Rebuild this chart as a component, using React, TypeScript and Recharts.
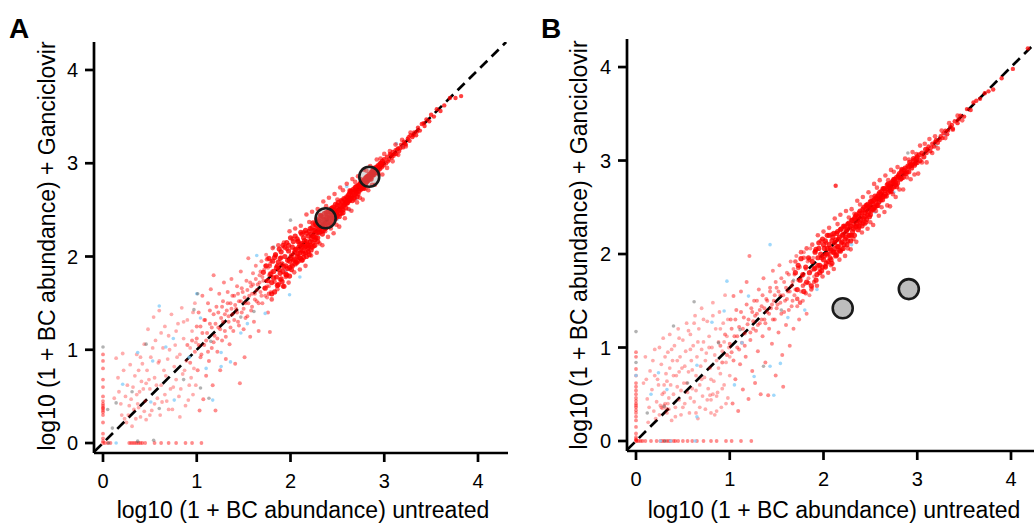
import { ScatterChart, Scatter, XAxis, YAxis } from 'recharts'

type Pt = [number, number]

const axisTicks = [0, 1, 2, 3, 4]
const xTitle = 'log10 (1 + BC abundance) untreated'
const yTitle = 'log10 (1 + BC abundance) + Ganciclovir'
// y = x reference
const identityLine: Pt[] = [[-0.09, -0.09], [4.3, 4.3]]

// ---- panel A ----
const aZeroCol: Pt[] = [
  [0, 0], [0, 0.02], [0, 0.05], [0, 0.1], [0, 0.22], [0, 0.3], [0, 0.33], [0, 0.35], [0, 0.37], [0, 0.38],
  [0, 0.4], [0, 0.42], [0, 0.45], [0, 0.5], [0, 0.6], [0, 0.68], [0, 0.8], [0, 0.88], [0, 0.95],
]
const aZeroRow: Pt[] = [
  [0.02, 0], [0.05, 0], [0.08, 0], [0.28, 0], [0.3, 0], [0.32, 0], [0.34, 0], [0.36, 0], [0.38, 0], [0.4, 0],
  [0.42, 0], [0.45, 0], [0.55, 0], [0.62, 0], [0.7, 0], [0.78, 0], [0.88, 0], [0.95, 0], [1.05, 0],
]
const aLow: Pt[] = [
  [0.14, 0.91], [0.17, 0.55], [0.2, 0.3], [0.22, 0.78], [0.25, 0.22], [0.26, 0.62], [0.28, 0.4], [0.3, 0.47],
  [0.31, 0.18], [0.33, 0.36], [0.34, 0.72], [0.36, 0.95], [0.37, 0.42], [0.38, 0.38], [0.39, 0.55], [0.4, 0.28],
  [0.41, 0.66], [0.42, 0.85], [0.44, 1.06], [0.45, 0.45], [0.46, 0.25], [0.47, 0.78], [0.48, 1.22], [0.5, 0.58],
  [0.51, 0.92], [0.52, 0.35], [0.54, 1.35], [0.55, 0.7], [0.56, 1.1], [0.58, 0.48], [0.59, 0.86], [0.6, 1.42],
  [0.61, 0.3], [0.62, 0.62], [0.64, 1.02], [0.65, 0.78], [0.66, 1.25], [0.68, 0.45], [0.69, 0.9], [0.7, 1.15],
  [0.72, 0.58], [0.73, 1.38], [0.74, 0.36], [0.76, 0.82], [0.77, 1.05], [0.78, 0.68], [0.8, 1.28], [0.81, 0.5],
  [0.82, 0.95], [0.84, 1.45], [0.85, 0.74], [0.86, 1.12], [0.88, 0.4], [0.89, 0.88], [0.9, 1.32], [0.92, 0.62],
  [0.93, 1.02], [0.95, 1.2], [0.96, 0.52], [0.97, 0.8], [0.98, 1.5], [0.99, 1.08],
  [0.12, 0.48], [0.16, 0.7], [0.19, 0.42], [0.21, 0.96], [0.24, 0.5], [0.27, 0.3], [0.29, 0.84], [0.32, 0.6],
  [0.35, 0.26], [0.36, 0.52], [0.4, 0.92], [0.43, 0.58], [0.44, 0.34], [0.49, 0.68], [0.5, 0.3], [0.53, 1.02],
  [0.57, 0.62], [0.6, 0.88], [0.62, 1.18], [0.63, 0.44], [0.67, 0.72], [0.7, 0.36], [0.71, 1.0], [0.75, 0.6],
  [0.78, 1.2], [0.79, 0.92], [0.83, 0.58], [0.86, 1.3], [0.87, 0.78], [0.91, 0.46], [0.94, 0.7], [0.96, 1.4],
  [0.99, 0.62], [0.82, 0.28], [0.66, 0.52], [0.55, 0.42], [0.46, 0.64], [0.38, 0.78], [0.23, 0.26],
]
const aMid: Pt[] = [
  [1.0, 1.12], [1.01, 0.78], [1.02, 1.4], [1.03, 0.35], [1.04, 1.25], [1.05, 0.95], [1.06, 1.58], [1.07, 0.47],
  [1.08, 1.05], [1.09, 1.32], [1.1, 0.72], [1.11, 1.18], [1.12, 1.5], [1.13, 0.88], [1.14, 1.28], [1.15, 1.65],
  [1.16, 1.02], [1.17, 0.62], [1.18, 1.38], [1.18, 1.8], [1.19, 1.15], [1.2, 0.35], [1.21, 1.46], [1.22, 0.98],
  [1.23, 1.24], [1.24, 1.6], [1.25, 0.78], [1.26, 1.34], [1.27, 1.1], [1.28, 1.52], [1.29, 1.72], [1.3, 1.2],
  [1.31, 0.9], [1.32, 1.42], [1.33, 1.62], [1.34, 1.3], [1.35, 1.06], [1.36, 1.5], [1.37, 1.76], [1.38, 1.38],
  [1.39, 1.2], [1.4, 1.58], [1.41, 0.85], [1.42, 1.44], [1.43, 1.68], [1.44, 1.3], [1.45, 1.52], [1.46, 0.64],
  [1.47, 1.84], [1.48, 1.4], [1.49, 1.62], [1.5, 1.22], [1.51, 0.92], [1.52, 1.5], [1.53, 1.74], [1.54, 1.36],
  [1.55, 1.98], [1.56, 1.58], [1.57, 1.14], [1.58, 1.68], [1.59, 1.46], [1.6, 1.82], [1.61, 1.3], [1.62, 1.6],
  [1.63, 1.9], [1.64, 1.52], [1.65, 1.7], [1.66, 1.2], [1.67, 1.8], [1.68, 1.62], [1.69, 1.95], [1.7, 1.5],
  [1.71, 1.74], [1.72, 1.86], [1.73, 1.58], [1.74, 2.02], [1.75, 1.68], [1.76, 1.4], [1.77, 1.8], [1.78, 1.19],
  [1.78, 1.92], [1.79, 1.62],
  [0.9, 1.05], [0.93, 0.86], [0.95, 1.1], [0.98, 0.98], [1.0, 1.25], [1.02, 1.05], [1.04, 0.92], [1.06, 1.18],
  [1.08, 1.32], [1.1, 1.1], [1.12, 0.98], [1.14, 1.42], [1.16, 1.24], [1.18, 1.08],
  [1.2, 1.28], [1.22, 1.12], [1.23, 1.4], [1.25, 1.22], [1.27, 1.46], [1.28, 1.3], [1.3, 1.38], [1.31, 1.14],
  [1.33, 1.5], [1.34, 1.36], [1.36, 1.24], [1.37, 1.44], [1.38, 1.58], [1.4, 1.32], [1.41, 1.48], [1.43, 1.4],
  [1.44, 1.6], [1.45, 1.26], [1.47, 1.52], [1.48, 1.66], [1.5, 1.44], [1.51, 1.56], [1.52, 1.34], [1.54, 1.64],
  [1.55, 1.5], [1.57, 1.72], [1.58, 1.42], [1.59, 1.6], [1.6, 1.7], [1.62, 1.54], [1.63, 1.76], [1.64, 1.64],
  [1.66, 1.5], [1.67, 1.72], [1.68, 1.84], [1.69, 1.58], [1.7, 1.78], [1.72, 1.66], [1.73, 1.9], [1.74, 1.74],
  [1.75, 1.56], [1.76, 1.88], [1.77, 1.68], [1.78, 1.82], [1.79, 1.95], [1.8, 1.84],
]
const aCore: Pt[] = [
  [1.8, 1.72], [1.81, 1.95], [1.82, 1.84], [1.83, 1.62], [1.84, 2.02], [1.85, 1.78], [1.86, 1.9], [1.87, 1.7],
  [1.88, 2.08], [1.88, 1.86], [1.89, 1.98], [1.9, 1.76], [1.91, 1.92], [1.92, 2.12], [1.92, 1.84], [1.93, 1.68],
  [1.94, 2.0], [1.95, 1.9], [1.96, 2.15], [1.96, 1.8], [1.97, 1.96], [1.98, 2.06], [1.99, 1.88], [2.0, 1.98],
  [2.0, 2.2], [2.01, 1.86], [2.02, 2.1], [2.03, 1.96], [2.04, 2.04], [2.05, 2.22], [2.05, 1.92], [2.06, 2.08],
  [2.07, 2.0], [2.08, 2.16], [2.08, 1.95], [2.09, 2.1], [2.1, 2.04], [2.11, 2.26], [2.11, 1.98], [2.12, 2.14],
  [2.13, 2.06], [2.14, 2.2], [2.14, 1.99], [2.15, 2.1], [2.16, 2.28], [2.16, 2.04], [2.17, 2.16], [2.18, 2.08],
  [2.19, 2.22], [2.19, 2.12], [2.2, 2.02], [2.21, 2.3], [2.21, 2.16], [2.22, 2.24], [2.23, 2.1], [2.24, 2.36],
  [2.24, 2.22], [2.25, 2.28], [2.26, 2.18], [2.27, 2.34], [2.27, 2.25], [2.28, 2.4], [2.29, 2.2], [2.3, 2.3],
  [2.31, 2.38], [2.31, 2.26], [2.32, 2.44], [2.33, 2.32], [2.34, 2.24], [2.35, 2.4], [2.35, 2.35], [2.36, 2.46],
  [2.37, 2.3], [2.38, 2.42], [2.39, 2.36], [2.4, 2.48], [2.41, 2.4], [2.42, 2.5], [2.42, 2.36], [2.43, 2.44],
  [2.44, 2.52], [2.45, 2.42], [2.46, 2.48], [2.47, 2.4], [2.48, 2.56], [2.48, 2.46], [2.49, 2.52], [2.5, 2.44],
  [2.51, 2.58], [2.52, 2.5], [2.53, 2.46], [2.54, 2.6], [2.55, 2.54], [2.56, 2.5], [2.57, 2.62], [2.58, 2.56],
  [2.59, 2.52], [2.6, 2.64], [2.61, 2.58], [2.62, 2.66], [2.63, 2.6], [2.64, 2.7], [2.65, 2.64], [2.66, 2.6],
  [2.67, 2.72], [2.68, 2.66], [2.69, 2.74], [2.7, 2.68], [2.71, 2.64], [2.72, 2.76], [2.73, 2.7], [2.74, 2.78],
  [2.75, 2.72], [2.76, 2.8], [2.77, 2.74], [2.78, 2.82], [2.79, 2.76], [2.8, 2.84], [2.81, 2.8], [2.82, 2.86],
  [2.83, 2.82], [2.84, 2.88], [2.85, 2.84], [2.86, 2.9], [2.87, 2.86], [2.88, 2.92], [2.89, 2.88], [2.9, 2.94],
  [2.91, 2.9], [2.92, 2.96], [2.93, 2.92], [2.94, 2.98], [2.95, 2.94], [2.96, 3.0], [2.97, 2.96], [2.98, 3.02],
  [2.99, 2.98], [3.0, 3.04],
  [1.71, 1.83], [1.73, 1.66], [1.74, 1.9], [1.76, 1.74], [1.77, 1.98], [1.79, 1.81], [1.8, 1.6], [1.82, 1.77],
  [1.83, 1.99], [1.85, 1.88], [1.86, 1.69], [1.87, 1.94], [1.89, 1.82], [1.9, 2.05], [1.91, 1.73], [1.93, 1.89],
  [1.94, 2.1], [1.95, 1.81], [1.97, 1.87], [1.98, 2.12], [1.99, 1.79], [1.99, 1.95],
  [2.01, 2.01], [2.02, 1.9], [2.03, 2.16], [2.04, 1.97], [2.05, 2.07], [2.06, 1.94], [2.07, 2.19], [2.08, 2.03],
  [2.09, 1.99], [2.1, 2.13], [2.11, 2.07], [2.12, 1.96], [2.12, 2.24], [2.13, 2.11], [2.14, 2.03], [2.15, 2.17],
  [2.16, 2.11], [2.17, 2.0], [2.17, 2.25], [2.18, 2.13], [2.19, 2.05], [2.2, 2.27], [2.21, 2.12], [2.22, 2.19],
  [2.22, 2.07], [2.23, 2.31], [2.24, 2.15], [2.25, 2.21], [2.26, 2.28], [2.26, 2.12], [2.27, 2.2], [2.28, 2.33],
  [2.29, 2.26], [2.29, 2.16], [2.3, 2.39], [2.31, 2.29], [2.32, 2.35], [2.33, 2.27], [2.33, 2.43], [2.34, 2.33],
  [2.35, 2.28], [2.36, 2.39], [2.37, 2.35], [2.38, 2.47], [2.38, 2.31], [2.39, 2.42], [2.4, 2.34], [2.41, 2.45],
  [2.42, 2.41], [2.43, 2.35], [2.44, 2.48], [2.45, 2.39], [2.46, 2.53], [2.46, 2.44], [2.47, 2.5], [2.48, 2.41],
  [2.49, 2.47], [2.5, 2.55], [2.51, 2.49], [2.52, 2.43], [2.53, 2.55], [2.54, 2.51], [2.55, 2.59], [2.56, 2.47],
  [2.57, 2.55], [2.58, 2.61], [2.59, 2.58], [2.6, 2.57], [2.61, 2.63], [2.62, 2.6], [2.63, 2.68], [2.64, 2.62],
  [2.65, 2.7], [2.66, 2.65], [2.67, 2.69], [2.68, 2.63], [2.69, 2.71], [2.7, 2.75], [2.71, 2.7], [2.72, 2.67],
  [2.73, 2.76], [2.74, 2.73], [2.75, 2.79], [2.76, 2.74], [2.77, 2.78], [2.78, 2.73], [2.79, 2.81], [2.8, 2.78],
  [2.81, 2.85], [2.82, 2.81], [2.83, 2.86], [2.85, 2.87], [2.86, 2.83], [2.87, 2.91], [2.88, 2.88], [2.9, 2.9],
  [2.91, 2.95], [2.93, 2.9], [2.95, 2.97], [2.97, 3.0],
]
// outer part of the dense band
const aEdge: Pt[] = [
  [1.75, 1.97], [1.77, 1.6], [1.78, 1.9], [1.8, 1.54], [1.81, 2.09], [1.83, 1.73], [1.84, 2.01], [1.86, 1.65],
  [1.87, 2.12], [1.89, 1.75], [1.9, 1.99], [1.92, 1.68], [1.93, 2.15], [1.95, 1.78], [1.96, 2.08], [1.98, 1.72],
  [1.99, 2.27], [2.01, 1.91], [2.02, 2.19], [2.04, 1.83], [2.05, 2.3], [2.07, 1.93], [2.08, 2.17], [2.1, 1.86],
  [2.11, 2.33], [2.13, 1.96], [2.14, 2.26], [2.16, 1.9], [2.17, 2.45], [2.19, 2.09], [2.2, 2.37], [2.22, 2.01],
  [2.23, 2.48], [2.25, 2.11], [2.26, 2.35], [2.28, 2.04], [2.29, 2.51], [2.31, 2.14], [2.32, 2.44], [2.34, 2.12],
  [2.35, 2.59], [2.37, 2.27], [2.38, 2.54], [2.4, 2.21], [2.41, 2.63], [2.43, 2.3], [2.44, 2.52], [2.46, 2.25],
  [2.47, 2.67], [2.49, 2.34], [2.5, 2.61], [2.52, 2.32], [2.53, 2.74], [2.55, 2.46], [2.56, 2.71], [2.58, 2.41],
  [2.6, 2.78], [2.62, 2.51], [2.63, 2.71], [2.65, 2.49], [2.66, 2.83], [2.68, 2.61], [2.69, 2.8], [2.71, 2.58],
  [2.72, 2.86], [2.74, 2.63], [2.75, 2.83], [2.77, 2.61], [2.78, 2.93], [2.8, 2.73], [2.81, 2.92], [2.83, 2.71],
  [2.85, 2.97], [2.87, 2.77], [2.88, 2.95], [2.9, 2.77], [2.92, 3.04], [2.94, 2.88], [2.96, 3.05], [2.98, 2.88],
  [3.0, 3.1], [3.03, 2.95], [3.06, 3.13], [3.09, 3.02], [3.12, 3.2], [3.15, 3.09], [3.19, 3.25], [3.23, 3.18],
  [3.28, 3.33],
]
const aTail: Pt[] = [
  [3.02, 3.0], [3.03, 3.07], [3.05, 3.04], [3.06, 3.1], [3.08, 3.06], [3.09, 3.12], [3.1, 3.08], [3.12, 3.14],
  [3.13, 3.1], [3.15, 3.16], [3.16, 3.13], [3.18, 3.2], [3.2, 3.17], [3.21, 3.23], [3.23, 3.2], [3.25, 3.26],
  [3.27, 3.24], [3.28, 3.3], [3.3, 3.28], [3.32, 3.33], [3.34, 3.3], [3.36, 3.38], [3.38, 3.35], [3.4, 3.42],
  [3.43, 3.4], [3.45, 3.47], [3.48, 3.45], [3.5, 3.52], [3.53, 3.5], [3.56, 3.58], [3.6, 3.56], [3.64, 3.62],
  [3.7, 3.7], [3.76, 3.7], [3.82, 3.72], [3.04, 3.02], [3.07, 3.09], [3.11, 3.1], [3.14, 3.15], [3.17, 3.16],
  [3.22, 3.21], [3.26, 3.28], [3.31, 3.3], [3.35, 3.34], [3.42, 3.43],
]
const aBlue: Pt[] = [
  [0.14, 0], [0.6, 1.47], [0.37, 0.97], [0.53, 0.88], [0.67, 1.03], [0.75, 1.12], [0.21, 0.63], [0.76, 0.46],
  [0.51, 0.44], [1.04, 1.34], [0.92, 0.92], [1.1, 0.8], [1.26, 0.97], [1.26, 0.82], [1.17, 0.46], [1.36, 0.87],
  [1.47, 1.18], [1.54, 1.28], [1.73, 1.39], [1.99, 1.59], [2.1, 1.78], [1.64, 2.01], [1.0, 1.6], [2.63, 2.5],
  [3.13, 3.21], [2.6, 2.75], [2.2, 2.1], [2.35, 2.26], [2.5, 2.4], [2.7, 2.62], [3.2, 3.18], [1.95, 1.85],
]
const aGray: Pt[] = [
  [1.01, 1.6], [0.97, 1.43], [0.46, 1.06], [0, 1.03], [0.31, 0.55], [0.14, 0.43], [0.6, 0.37], [0.86, 0.68],
  [1.13, 0.48], [0.54, 0.03], [0.1, 0.16], [1.04, 0.59], [1.15, 1.09], [1.47, 1.35], [1.61, 1.41], [2.0, 2.39],
  [1.82, 2.1], [0.37, 0.02], [0.05, 0.36], [0.06, 0], [2.2, 2.16], [2.45, 2.38], [2.3, 2.24],
]
const aHighlight: Pt[] = [[2.375, 2.41], [2.84, 2.855]]

// ---- panel B ----
const bZeroCol: Pt[] = [
  [0, 0], [0, 0.01], [0, 0.02], [0, 0.04], [0, 0.08], [0, 0.15], [0, 0.22], [0, 0.26], [0, 0.3], [0, 0.33],
  [0, 0.36], [0, 0.38], [0, 0.4], [0, 0.43], [0, 0.46], [0, 0.5], [0, 0.54], [0, 0.58], [0, 0.62], [0, 0.7],
  [0, 0.77], [0, 0.9], [0, 0.95],
]
const bZeroRow: Pt[] = [
  [0.01, 0], [0.03, 0], [0.05, 0], [0.07, 0], [0.1, 0], [0.16, 0], [0.22, 0], [0.26, 0], [0.28, 0], [0.3, 0],
  [0.33, 0], [0.35, 0], [0.37, 0], [0.4, 0], [0.42, 0], [0.45, 0], [0.5, 0], [0.55, 0], [0.6, 0], [0.65, 0],
  [0.72, 0], [0.8, 0], [0.86, 0], [0.96, 0], [1.02, 0], [1.12, 0], [1.23, 0],
]
const bLow: Pt[] = [
  [0.08, 0.62], [0.1, 0.9], [0.12, 0.45], [0.13, 0.2], [0.15, 0.75], [0.17, 0.55], [0.19, 0.32], [0.2, 0.98],
  [0.22, 0.42], [0.23, 0.66], [0.25, 0.28], [0.26, 0.38], [0.27, 0.82], [0.27, 0.36], [0.28, 0.35], [0.29, 1.1],
  [0.3, 0.52], [0.3, 0.38], [0.31, 0.4], [0.32, 0.72], [0.32, 0.35], [0.33, 0.3], [0.34, 0.95], [0.34, 0.4],
  [0.35, 0.46], [0.36, 1.14], [0.37, 0.6], [0.38, 0.22], [0.39, 0.86], [0.4, 0.5], [0.41, 1.02], [0.42, 0.36],
  [0.43, 0.7], [0.44, 0.58], [0.45, 1.2], [0.46, 0.44], [0.47, 0.9], [0.48, 0.28], [0.49, 0.78], [0.5, 1.08],
  [0.51, 0.62], [0.52, 0.4], [0.53, 0.96], [0.54, 1.26], [0.55, 0.52], [0.56, 0.74], [0.57, 0.3], [0.58, 1.14],
  [0.59, 0.86], [0.6, 0.56], [0.61, 1.02], [0.62, 0.42], [0.63, 1.34], [0.64, 0.7], [0.65, 0.9], [0.66, 0.24],
  [0.67, 1.2], [0.68, 0.6], [0.69, 0.8], [0.7, 1.42], [0.71, 0.48], [0.72, 1.06], [0.73, 0.68], [0.74, 0.34],
  [0.75, 0.94], [0.76, 1.28], [0.77, 0.56], [0.78, 1.12], [0.79, 0.78], [0.79, 0.49], [0.8, 0.44], [0.81, 1.0],
  [0.82, 1.48], [0.82, 0.5], [0.83, 0.64], [0.84, 0.28], [0.85, 1.2], [0.86, 0.86], [0.86, 0.48], [0.87, 0.52],
  [0.88, 1.06], [0.89, 1.38], [0.9, 0.72], [0.91, 0.36], [0.92, 0.96], [0.93, 1.26], [0.94, 0.6], [0.95, 1.56],
  [0.96, 0.84], [0.97, 1.12], [0.98, 0.46], [0.99, 1.0], [1.0, 0.7],
  [0.11, 0.66], [0.14, 0.36], [0.18, 0.86], [0.21, 0.24], [0.24, 0.6], [0.25, 1.0], [0.28, 0.5], [0.31, 0.9],
  [0.33, 0.64], [0.35, 0.34], [0.38, 0.98], [0.4, 0.7], [0.42, 0.26], [0.44, 0.86], [0.46, 1.1], [0.48, 0.54],
  [0.5, 0.36], [0.52, 0.8], [0.54, 0.62], [0.56, 1.18], [0.58, 0.46], [0.6, 0.76], [0.62, 1.26], [0.64, 0.54],
  [0.66, 1.06], [0.68, 0.36], [0.7, 0.66], [0.72, 1.3], [0.74, 0.86], [0.76, 0.44], [0.78, 1.0], [0.8, 0.66],
  [0.82, 1.34], [0.84, 0.92], [0.86, 0.32], [0.88, 0.78], [0.9, 1.2], [0.92, 0.56], [0.94, 1.06], [0.96, 0.4],
  [0.98, 1.3], [1.0, 0.9], [0.7, 0.98], [0.58, 0.98], [0.46, 0.74], [0.36, 0.78], [0.3, 0.6], [0.2, 0.7],
  [0.64, 0.3], [0.8, 0.3],
]
const bMid: Pt[] = [
  [1.01, 1.3], [1.02, 0.95], [1.03, 0.4], [1.04, 1.55], [1.05, 1.12], [1.06, 0.66], [1.07, 1.4], [1.08, 1.0],
  [1.09, 0.32], [1.1, 1.22], [1.11, 0.82], [1.12, 1.6], [1.13, 1.05], [1.14, 0.55], [1.15, 1.32], [1.16, 1.15],
  [1.17, 0.9], [1.18, 1.7], [1.19, 1.25], [1.2, 0.45], [1.21, 1.98], [1.22, 1.08], [1.23, 1.42], [1.24, 0.75],
  [1.25, 1.28], [1.26, 1.5], [1.27, 0.62], [1.28, 1.18], [1.29, 1.36], [1.3, 0.96], [1.31, 1.62], [1.32, 1.26],
  [1.33, 0.5], [1.34, 1.44], [1.35, 1.12], [1.36, 1.74], [1.37, 1.3], [1.38, 0.84], [1.39, 1.52], [1.4, 1.38],
  [1.41, 0.49], [1.42, 1.2], [1.43, 1.6], [1.44, 1.42], [1.45, 1.04], [1.46, 1.82], [1.47, 1.5], [1.48, 1.3],
  [1.49, 0.7], [1.5, 1.64], [1.51, 1.46], [1.52, 1.16], [1.53, 1.88], [1.54, 1.56], [1.55, 1.36], [1.56, 0.92],
  [1.57, 0.58], [1.58, 1.7], [1.59, 1.5], [1.6, 1.24], [1.61, 1.8], [1.62, 1.6], [1.63, 1.4], [1.64, 1.02],
  [1.65, 1.92], [1.66, 1.66], [1.67, 1.5], [1.68, 1.2], [1.69, 1.78], [1.7, 1.62], [1.71, 1.98], [1.72, 1.44],
  [1.73, 1.72], [1.74, 1.3], [1.75, 1.86], [1.76, 1.6], [1.77, 1.76], [1.78, 1.5], [1.79, 2.02], [1.8, 1.68],
  [1.81, 1.84], [1.82, 1.36], [1.83, 1.92], [1.84, 1.74], [1.85, 1.56], [1.86, 2.06], [1.87, 1.82], [1.88, 1.64],
  [1.89, 1.96], [1.9, 1.76],
  [0.9, 1.02], [0.92, 0.84], [0.95, 1.14], [0.97, 0.92], [1.0, 1.04], [1.02, 1.2], [1.04, 0.86], [1.06, 1.3],
  [1.08, 1.12], [1.1, 0.98], [1.12, 1.38], [1.14, 1.2], [1.16, 1.02], [1.18, 1.46],
  [1.2, 1.3], [1.22, 1.16], [1.24, 1.38], [1.25, 1.2], [1.27, 1.34], [1.29, 1.5], [1.3, 1.24], [1.32, 1.4],
  [1.34, 1.3], [1.35, 1.56], [1.37, 1.42], [1.38, 1.26], [1.4, 1.5], [1.42, 1.36], [1.43, 1.64], [1.45, 1.46],
  [1.46, 1.3], [1.48, 1.56], [1.49, 1.7], [1.5, 1.42], [1.52, 1.6], [1.54, 1.48], [1.55, 1.74], [1.57, 1.56],
  [1.58, 1.38], [1.6, 1.64], [1.61, 1.52], [1.63, 1.78], [1.64, 1.6], [1.66, 1.44], [1.67, 1.7], [1.68, 1.84],
  [1.69, 1.56],
]
const bCore: Pt[] = [
  [1.91, 1.85], [1.92, 2.05], [1.93, 1.78], [1.94, 1.96], [1.95, 2.12], [1.96, 1.88], [1.97, 2.0], [1.98, 1.82],
  [1.99, 2.16], [2.0, 1.94], [2.01, 2.06], [2.02, 1.86], [2.03, 2.0], [2.04, 2.2], [2.05, 1.92], [2.06, 2.1],
  [2.07, 1.96], [2.08, 2.04], [2.09, 1.9], [2.1, 2.18], [2.11, 2.02], [2.12, 2.12], [2.13, 1.98], [2.14, 2.22],
  [2.15, 2.08], [2.16, 2.16], [2.17, 2.04], [2.18, 2.26], [2.19, 2.12], [2.2, 2.2], [2.21, 2.06], [2.22, 2.3],
  [2.23, 2.16], [2.24, 2.24], [2.25, 2.1], [2.26, 2.32], [2.27, 2.2], [2.28, 2.28], [2.29, 2.14], [2.3, 2.36],
  [2.31, 2.24], [2.32, 2.32], [2.33, 2.2], [2.34, 2.4], [2.35, 2.3], [2.36, 2.36], [2.37, 2.26], [2.38, 2.44],
  [2.39, 2.34], [2.4, 2.4], [2.41, 2.3], [2.42, 2.48], [2.43, 2.38], [2.44, 2.44], [2.45, 2.34], [2.46, 2.52],
  [2.47, 2.42], [2.48, 2.5], [2.49, 2.4], [2.5, 2.56], [2.51, 2.46], [2.52, 2.54], [2.53, 2.48], [2.54, 2.58],
  [2.55, 2.5], [2.56, 2.6], [2.57, 2.52], [2.58, 2.62], [2.59, 2.56], [2.6, 2.66], [2.61, 2.58], [2.62, 2.64],
  [2.63, 2.58], [2.64, 2.7], [2.65, 2.62], [2.66, 2.68], [2.67, 2.62], [2.68, 2.74], [2.69, 2.66], [2.7, 2.72],
  [2.71, 2.68], [2.72, 2.76], [2.73, 2.7], [2.74, 2.78], [2.75, 2.72], [2.76, 2.8], [2.77, 2.74], [2.78, 2.82],
  [2.79, 2.76], [2.8, 2.84], [2.82, 2.8], [2.83, 2.88], [2.85, 2.82], [2.86, 2.9], [2.88, 2.86], [2.9, 2.94],
  [2.91, 2.88], [2.93, 2.96], [2.94, 2.92], [2.96, 3.0], [2.97, 2.95], [2.99, 3.02], [3.0, 2.98], [3.02, 3.06],
  [3.03, 3.0], [3.05, 3.08], [3.07, 3.04], [3.09, 3.12],
  [1.7, 1.8], [1.72, 1.62], [1.73, 1.88], [1.75, 1.72], [1.76, 1.95], [1.78, 1.78], [1.79, 1.6], [1.81, 1.86],
  [1.82, 1.7], [1.84, 1.96], [1.85, 1.8], [1.87, 1.66], [1.88, 1.92], [1.9, 1.84], [1.91, 2.02], [1.92, 1.72],
  [1.94, 1.88], [1.95, 2.06], [1.96, 1.8], [1.98, 1.96], [1.99, 1.86],
  [2.0, 2.1], [2.01, 1.98], [2.02, 2.14], [2.03, 1.9], [2.04, 2.06], [2.05, 2.0], [2.06, 2.2], [2.07, 2.06],
  [2.08, 1.94], [2.09, 2.14], [2.1, 2.02], [2.11, 2.22], [2.12, 2.06], [2.13, 2.15], [2.14, 1.99], [2.15, 2.24],
  [2.16, 2.08], [2.17, 2.18], [2.18, 2.03], [2.19, 2.27], [2.2, 2.13], [2.21, 2.21], [2.22, 2.1], [2.23, 2.29],
  [2.24, 2.18], [2.25, 2.26], [2.26, 2.14], [2.27, 2.33], [2.28, 2.2], [2.29, 2.3],
  [2.3, 2.2], [2.31, 2.36], [2.32, 2.27], [2.33, 2.38], [2.34, 2.29], [2.35, 2.42], [2.36, 2.32], [2.37, 2.4],
  [2.38, 2.3], [2.39, 2.46], [2.4, 2.36], [2.41, 2.44], [2.42, 2.33], [2.43, 2.5], [2.44, 2.4], [2.45, 2.47],
  [2.46, 2.37], [2.47, 2.53], [2.48, 2.45], [2.49, 2.51], [2.5, 2.42], [2.51, 2.56], [2.52, 2.48], [2.53, 2.57],
  [2.54, 2.5], [2.55, 2.62], [2.56, 2.54], [2.57, 2.59], [2.58, 2.52], [2.59, 2.64],
  [2.6, 2.6], [2.62, 2.67], [2.63, 2.61], [2.65, 2.7], [2.66, 2.64], [2.68, 2.7], [2.69, 2.75], [2.71, 2.72],
  [2.72, 2.67], [2.74, 2.76], [2.75, 2.8], [2.77, 2.77], [2.78, 2.72], [2.8, 2.82], [2.81, 2.86], [2.83, 2.81],
  [2.84, 2.9], [2.86, 2.86], [2.87, 2.92], [2.89, 2.88], [2.91, 2.93], [2.92, 2.98], [2.94, 2.95], [2.96, 3.02],
  [2.98, 2.97], [3.0, 3.04],
]
// outer part of the dense band
const bEdge: Pt[] = [
  [1.7, 1.92], [1.72, 1.52], [1.73, 1.85], [1.75, 1.48], [1.76, 2.02], [1.78, 1.66], [1.79, 1.96], [1.81, 1.58],
  [1.82, 2.06], [1.84, 1.69], [1.85, 1.94], [1.87, 1.62], [1.88, 2.1], [1.9, 1.7], [1.91, 2.03], [1.93, 1.66],
  [1.94, 2.2], [1.96, 1.84], [1.97, 2.14], [1.99, 1.76], [2.0, 2.24], [2.02, 1.87], [2.03, 2.12], [2.05, 1.8],
  [2.06, 2.28], [2.08, 1.88], [2.09, 2.21], [2.11, 1.84], [2.12, 2.38], [2.14, 2.02], [2.15, 2.32], [2.17, 1.94],
  [2.18, 2.42], [2.2, 2.05], [2.21, 2.3], [2.23, 1.98], [2.24, 2.46], [2.26, 2.06], [2.27, 2.39], [2.29, 2.05],
  [2.3, 2.48], [2.32, 2.16], [2.33, 2.43], [2.35, 2.13], [2.36, 2.57], [2.38, 2.28], [2.39, 2.53], [2.41, 2.23],
  [2.42, 2.61], [2.44, 2.32], [2.45, 2.52], [2.47, 2.27], [2.48, 2.66], [2.5, 2.34], [2.51, 2.61], [2.53, 2.31],
  [2.54, 2.75], [2.56, 2.46], [2.57, 2.71], [2.59, 2.41], [2.6, 2.79], [2.62, 2.5], [2.63, 2.7], [2.65, 2.45],
  [2.66, 2.84], [2.68, 2.52], [2.69, 2.79], [2.71, 2.51], [2.72, 2.9], [2.74, 2.64], [2.75, 2.88], [2.77, 2.61],
  [2.79, 2.93], [2.81, 2.69], [2.83, 2.91], [2.85, 2.69], [2.87, 3.02], [2.89, 2.82], [2.91, 3.01], [2.93, 2.8],
  [2.95, 3.09], [2.97, 2.85], [2.99, 3.07], [3.01, 2.86], [3.03, 3.16], [3.05, 2.98], [3.08, 3.18], [3.1, 2.98],
  [3.13, 3.23], [3.16, 3.08], [3.19, 3.26], [3.22, 3.13], [3.26, 3.32], [3.3, 3.24], [3.34, 3.4], [3.38, 3.33],
  [3.43, 3.48], [3.48, 3.43],
]
const bTail: Pt[] = [
  [3.1, 3.08], [3.12, 3.15], [3.14, 3.1], [3.16, 3.18], [3.18, 3.15], [3.2, 3.22], [3.22, 3.19], [3.25, 3.26],
  [3.27, 3.24], [3.3, 3.32], [3.32, 3.28], [3.35, 3.36], [3.38, 3.34], [3.4, 3.42], [3.43, 3.4], [3.46, 3.48],
  [3.5, 3.47], [3.53, 3.55], [3.57, 3.54], [3.6, 3.62], [3.63, 3.64], [3.67, 3.66], [3.72, 3.72], [3.76, 3.74],
  [3.81, 3.76], [3.9, 3.88], [4.02, 3.98], [4.18, 4.2], [2.13, 2.73], [3.11, 3.12], [3.15, 3.14], [3.19, 3.2],
  [3.24, 3.22], [3.28, 3.29], [3.33, 3.32], [3.37, 3.38], [3.44, 3.44],
]
const bBlue: Pt[] = [
  [0.97, 1.71], [0.24, 0.73], [0.33, 0.55], [0.65, 0.81], [0.81, 1.27], [0.94, 1.39], [1.13, 1.05], [1.26, 0.69],
  [1.43, 0.8], [1.47, 0.49], [1.54, 0.83], [0.26, 0], [0.37, 0], [0.63, 0], [0.65, 0.26], [1.43, 2.1],
  [1.93, 1.62], [1.8, 1.4], [2.3, 2.1], [2.55, 2.45], [0, 0.7], [0.16, 0.5], [1.2, 1.55], [1.62, 1.32],
  [2.75, 2.66], [3.3, 3.28], [1.05, 0.6],
]
const bGray: Pt[] = [
  [0, 1.17], [0.62, 1.49], [0.4, 1.23], [0, 0.84], [0.3, 0.37], [1.36, 0.8], [0.31, 0], [1.11, 1.19],
  [2.9, 3.08], [2.05, 2.0], [2.6, 2.55], [1.68, 1.72], [0.55, 0.62], [0.88, 1.05], [1.55, 1.4], [2.25, 2.32],
  [3.2, 3.16], [0.12, 0.3],
]
const bHighlight: Pt[] = [[2.205, 1.42], [2.91, 1.625]]

const FONT = '"Liberation Sans", Arial, Helvetica, sans-serif'

const pts = (a: Pt[]) => a.map(([x, y]) => ({ x, y }))

const dot = (fill: string, r: number, opacity: number) => (p: any) =>
  <circle cx={p.cx} cy={p.cy} r={r} fill={fill} fillOpacity={opacity} />

const ring = (fill: string) => (p: any) =>
  <circle cx={p.cx} cy={p.cy} r={10} fill={fill} stroke="#1a1a1a" strokeWidth={2.6} />

interface PanelProps {
  left: number
  width: number
  top: number
  bottom: number
  yAxisW: number
  groups: { data: Pt[]; fill: string; r: number; op: number }[]
  highlight: Pt[]
  ringFill: string
}

function Panel({ left, width, top, bottom, yAxisW, groups, highlight, ringFill }: PanelProps) {
  const axisStyle = { stroke: '#000', strokeWidth: 2.7 }
  const tickStyle = { fill: '#000', fontSize: 20, fontFamily: FONT }
  return (
    <div style={{ position: 'absolute', left, top: 0 }}>
      <ScatterChart width={width} height={524} margin={{ top, right: 12, bottom: 0, left: 0 }}>
        <XAxis type="number" dataKey="x" domain={[-0.096, 4.32]} ticks={axisTicks} allowDataOverflow
          interval={0} height={524 - bottom} axisLine={axisStyle} tickLine={axisStyle}
          tickSize={9} tickMargin={12} tick={tickStyle} />
        <YAxis type="number" dataKey="y" domain={[-0.107, 4.3]} ticks={axisTicks} allowDataOverflow
          interval={0} width={yAxisW} axisLine={axisStyle} tickLine={axisStyle}
          tickSize={9} tickMargin={7} tick={tickStyle} />
        <Scatter data={pts(identityLine)} shape={() => <g />} lineType="joint" isAnimationActive={false}
          line={{ stroke: '#000', strokeWidth: 2.7, strokeDasharray: '10 6' }} />
        {groups.map((g, i) => (
          <Scatter key={i} data={pts(g.data)} shape={dot(g.fill, g.r, g.op)} isAnimationActive={false} />
        ))}
        <Scatter data={pts(highlight)} shape={ring(ringFill)} isAnimationActive={false} />
      </ScatterChart>
    </div>
  )
}

const RED = '#ff0000'
const BLUE = '#87cefa'
const GRAY = '#555555'

export default function App() {
  const aGroups = [
    { data: aZeroCol, fill: RED, r: 1.9, op: 0.45 },
    { data: aZeroRow, fill: RED, r: 1.9, op: 0.45 },
    { data: aLow, fill: RED, r: 1.9, op: 0.32 },
    { data: aMid, fill: RED, r: 2, op: 0.45 },
    { data: aBlue, fill: BLUE, r: 1.8, op: 0.8 },
    { data: aGray, fill: GRAY, r: 1.8, op: 0.45 },
    { data: aEdge, fill: RED, r: 2.3, op: 0.6 },
    { data: aCore, fill: RED, r: 2.6, op: 0.8 },
    { data: aTail, fill: RED, r: 2.2, op: 0.75 },
  ]
  const bGroups = [
    { data: bZeroCol, fill: RED, r: 1.9, op: 0.45 },
    { data: bZeroRow, fill: RED, r: 1.9, op: 0.45 },
    { data: bLow, fill: RED, r: 1.9, op: 0.32 },
    { data: bMid, fill: RED, r: 2, op: 0.45 },
    { data: bBlue, fill: BLUE, r: 1.8, op: 0.8 },
    { data: bGray, fill: GRAY, r: 1.8, op: 0.45 },
    { data: bEdge, fill: RED, r: 2.3, op: 0.6 },
    { data: bCore, fill: RED, r: 2.6, op: 0.8 },
    { data: bTail, fill: RED, r: 2.2, op: 0.75 },
  ]
  return (
    <div style={{ position: 'fixed', left: 0, top: 0, width: 1034, height: 524, overflow: 'hidden', background: '#fff' }}>
      <Panel left={0} width={520} top={42} bottom={453} yAxisW={94} groups={aGroups}
        highlight={aHighlight} ringFill="rgba(150,150,150,0.35)" />
      <Panel left={520} width={533} top={39} bottom={451} yAxisW={107} groups={bGroups}
        highlight={bHighlight} ringFill="#bdbdbd" />
      <svg width={1034} height={524} style={{ position: 'absolute', left: 0, top: 0, pointerEvents: 'none' }}
        fontFamily={FONT} fill="#000">
        <text x={9} y={38} fontSize={28} fontWeight="bold">A</text>
        <text x={541} y={38} fontSize={28} fontWeight="bold">B</text>
        <text x={303} y={518} fontSize={23} textAnchor="middle">{xTitle}</text>
        <text x={834} y={518} fontSize={23} textAnchor="middle">{xTitle}</text>
        <text transform="translate(55,246) rotate(-90)" fontSize={23} textAnchor="middle">{yTitle}</text>
        <text transform="translate(587,245) rotate(-90)" fontSize={23} textAnchor="middle">{yTitle}</text>
      </svg>
    </div>
  )
}
